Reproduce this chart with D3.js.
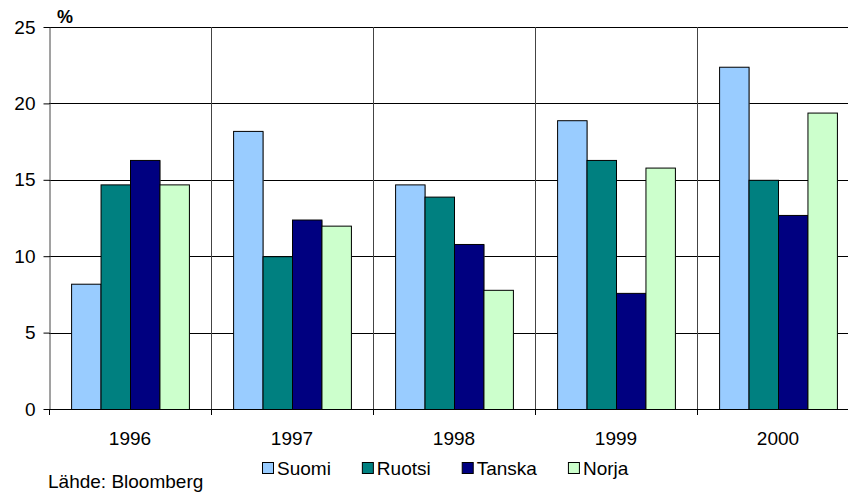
<!DOCTYPE html>
<html>
<head>
<meta charset="utf-8">
<script src="https://cdn.jsdelivr.net/npm/d3@7"></script>
<style>
  html, body { margin: 0; padding: 0; background: #fff; overflow: hidden; }
  svg { display: block; font-family: "Liberation Sans", Arial, sans-serif; }
</style>
</head>
<body>
<svg id="chart" width="848" height="493"></svg>
<script>
const years = ["1996", "1997", "1998", "1999", "2000"];
const seriesNames = ["Suomi", "Ruotsi", "Tanska", "Norja"];
const suomi  = [8.2, 18.2, 14.7, 18.9, 22.4];
const ruotsi = [14.7, 10.0, 13.9, 16.3, 15.0];
const tanska = [16.3, 12.4, 10.8, 7.6, 12.7];
const norja  = [14.7, 12.0, 7.8, 15.8, 19.4];
const colors = ["#99CCFF", "#008080", "#000080", "#CCFFCC"];
const yTicks = [0, 5, 10, 15, 20, 25];
const unitLabel = "%";
const sourceText = "Lähde: Bloomberg";

const seriesValues = [suomi, ruotsi, tanska, norja];

const svg = d3.select("#chart");
const pL = 49, pR = 859, pT = 27, pB = 409;
const FS = 19;

const x = d3.scaleBand().domain(years).range([pL, pR]).padding(0);
const xs = d3.scaleBand().domain(seriesNames).range([0, x.bandwidth()])
  .paddingInner(0).paddingOuter(0.75);
const y = d3.scaleLinear().domain([0, 25]).range([pB, pT]);

// horizontal gridlines
svg.append("g").selectAll("line").data(yTicks.filter(d => d > 0)).join("line")
  .attr("x1", pL).attr("x2", pR)
  .attr("y1", d => Math.round(y(d)) + 0.5).attr("y2", d => Math.round(y(d)) + 0.5)
  .attr("stroke", "#000").attr("stroke-width", 1);

// vertical gridlines at category boundaries
const bounds = years.map(d => x(d)).concat([pR]);
svg.append("g").selectAll("line").data(bounds.slice(1)).join("line")
  .attr("x1", d => Math.round(d) + 0.5).attr("x2", d => Math.round(d) + 0.5)
  .attr("y1", pT).attr("y2", pB)
  .attr("stroke", "#444").attr("stroke-width", 1);

// bars
const flat = [];
years.forEach((yr, i) => seriesNames.forEach((s, j) => flat.push({ yr, s, j, v: seriesValues[j][i] })));
const bars = svg.append("g");
bars.selectAll("rect.shadow").data(flat).join("rect").attr("class", "shadow")
  .attr("x", d => x(d.yr) + xs(d.s) + 1)
  .attr("y", d => y(d.v) + 1)
  .attr("width", xs.bandwidth())
  .attr("height", d => y(0) - y(d.v))
  .attr("fill", "#9a9a9a");
bars.selectAll("rect.bar").data(flat).join("rect").attr("class", "bar")
  .attr("x", d => x(d.yr) + xs(d.s) + 0.5)
  .attr("y", d => y(d.v) + 0.5)
  .attr("width", xs.bandwidth())
  .attr("height", d => y(0) - y(d.v))
  .attr("fill", d => colors[d.j])
  .attr("stroke", "#000").attr("stroke-width", 1);

// y axis
const yAxis = svg.append("g").attr("transform", `translate(${pL + 0.5},0)`)
  .call(d3.axisLeft(y).tickValues(yTicks).tickSize(6).tickPadding(8).tickSizeOuter(0));
yAxis.select(".domain").attr("stroke", "#444");
yAxis.selectAll(".tick line").attr("stroke", "#000");
yAxis.selectAll(".tick text").attr("font-size", FS).attr("fill", "#000")
  .attr("font-family", "Liberation Sans, Arial, sans-serif");

// x axis
const xAxis = svg.append("g").attr("transform", `translate(0,${pB + 0.5})`)
  .call(d3.axisBottom(x).tickSize(0).tickPadding(22));
xAxis.select(".domain").attr("stroke", "#000").attr("d", `M${pL},0H${pR}`);
xAxis.selectAll(".tick text").attr("font-size", FS).attr("fill", "#000")
  .attr("font-family", "Liberation Sans, Arial, sans-serif");
// x tick marks at category boundaries
svg.append("g").selectAll("line").data(bounds).join("line")
  .attr("x1", d => Math.round(d) + 0.5).attr("x2", d => Math.round(d) + 0.5)
  .attr("y1", pB).attr("y2", pB + 6)
  .attr("stroke", "#000");

// unit label
svg.append("text").attr("x", 57).attr("y", 23).attr("font-size", 18)
  .attr("font-weight", "bold").text(unitLabel);

// legend
const legend = svg.append("g");
let lx = 262;
seriesNames.forEach((s, j) => {
  legend.append("rect").attr("x", lx + 0.5).attr("y", 462.5).attr("width", 11).attr("height", 11)
    .attr("fill", colors[j]).attr("stroke", "#000");
  const t = legend.append("text").attr("x", lx + 15).attr("y", 474.5).attr("font-size", FS).text(s);
  lx += 15 + t.node().getComputedTextLength() + 31;
});

// source
svg.append("text").attr("x", 48).attr("y", 488).attr("font-size", 19).text(sourceText);
</script>
</body>
</html>
